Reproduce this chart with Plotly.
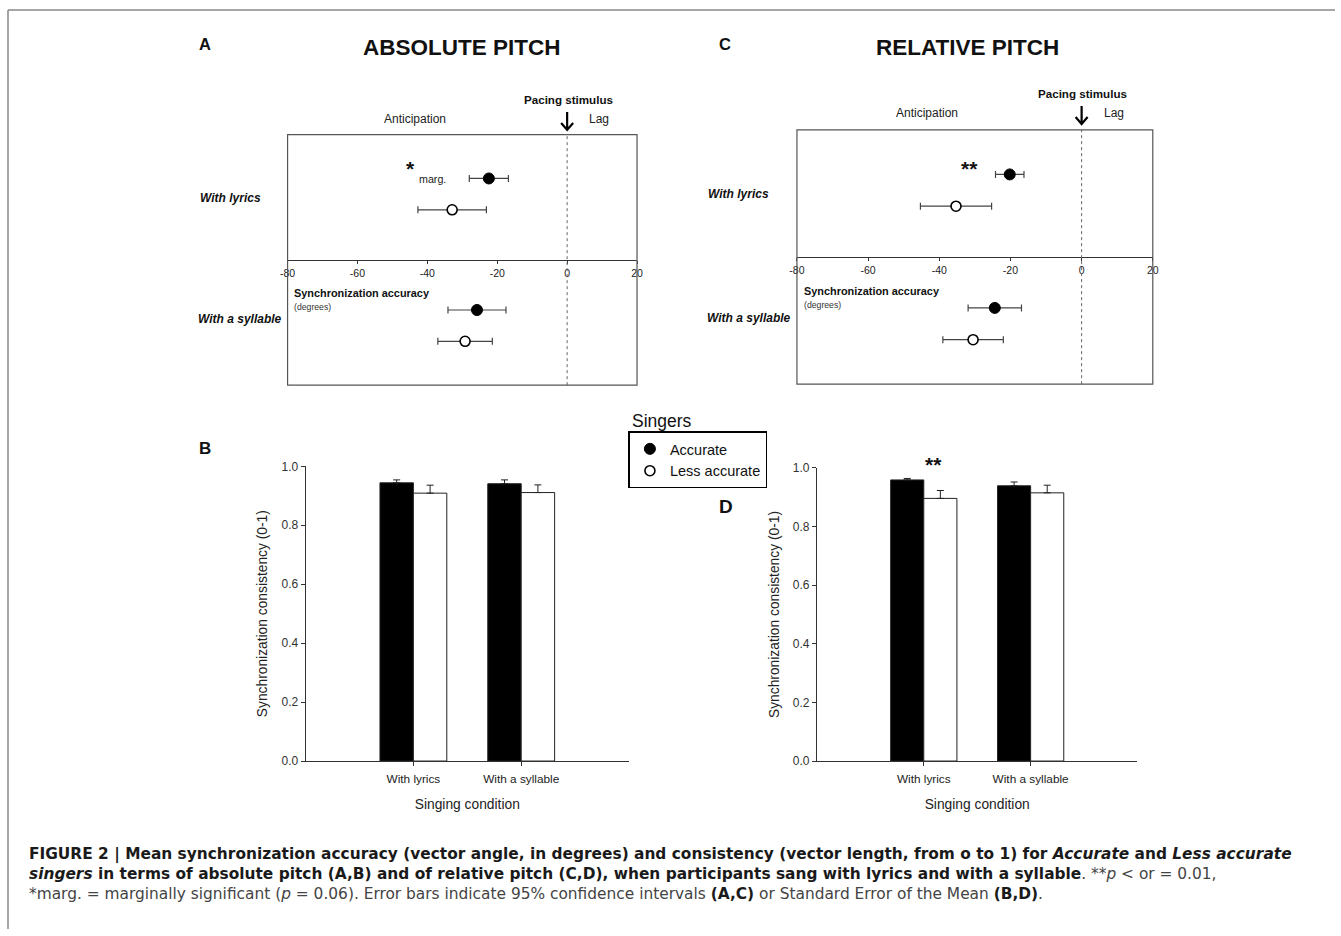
import plotly.graph_objects as go

W, H = 1341, 936
# the photographed page is slightly offset/scaled; compensate so marks land
# on the reference pixel positions
SX, OX = 0.99, 8.0
SY, OY = 0.988, 6.0


def px(x):
    return (x - OX) / SX / W


def py(y):
    return 1 - (y - OY) / SY / H


# ---------------- data ----------------
conditions = ["With lyrics", "With a syllable"]
groups = ["Accurate", "Less accurate"]

# Panels A / C: synchronization accuracy (degrees), mean and 95% CI half-width
abs_acc_mean = [-22.4, -25.8]
abs_acc_ci = [5.6, 8.3]
abs_less_mean = [-32.9, -29.2]
abs_less_ci = [9.8, 7.8]

rel_acc_mean = [-20.2, -24.4]
rel_acc_ci = [4.0, 7.5]
rel_less_mean = [-35.3, -30.5]
rel_less_ci = [10.0, 8.5]

# Panels B / D: synchronization consistency (0-1), mean and SEM
abs_acc_cons = [0.944, 0.941]
abs_acc_se = [0.010, 0.013]
abs_less_cons = [0.909, 0.911]
abs_less_se = [0.027, 0.026]

rel_acc_cons = [0.959, 0.939]
rel_acc_se = [0.005, 0.013]
rel_less_cons = [0.896, 0.915]
rel_less_se = [0.027, 0.026]

accuracy_ticks = [-80, -60, -40, -20, 0, 20]
accuracy_ticktext = ["-80", "-60", "-40", "-20", "0", "20"]
consistency_ticks = [0.0, 0.2, 0.4, 0.6, 0.8, 1.0]

# ---------------- layout helpers ----------------
FONT = "Liberation Sans, Arial, sans-serif"
row_center = [6.1, 1.9]          # vertical slot of each condition in A/C
group_offset = [0.5, -0.5]       # accurate above, less accurate below

fig = go.Figure()

marker_styles = [
    dict(color="black", size=11, line=dict(color="black", width=1)),
    dict(color="white", size=10, line=dict(color="black", width=1.6)),
]


def add_accuracy(means, cis, gi, xa, ya, show):
    ys = [row_center[i] + group_offset[gi] for i in range(len(conditions))]
    fig.add_trace(go.Scatter(
        x=means, y=ys, mode="markers", name=groups[gi],
        marker=marker_styles[gi],
        error_x=dict(type="data", array=cis, symmetric=True,
                     color="#444", thickness=1.2, width=3.5),
        xaxis=xa, yaxis=ya, showlegend=show, cliponaxis=False,
    ))


add_accuracy(abs_acc_mean, abs_acc_ci, 0, "x", "y", True)
add_accuracy(abs_less_mean, abs_less_ci, 1, "x", "y", True)
add_accuracy(rel_acc_mean, rel_acc_ci, 0, "x2", "y2", False)
add_accuracy(rel_less_mean, rel_less_ci, 1, "x2", "y2", False)

bar_colors = ["black", "white"]


def add_bars(vals, se, gi, xa, ya):
    fig.add_trace(go.Bar(
        x=conditions, y=vals, name=groups[gi],
        marker=dict(color=bar_colors[gi], line=dict(color="#222", width=1)),
        error_y=dict(type="data", array=se, arrayminus=[0] * len(se),
                     symmetric=False, color="#222", thickness=1, width=3.5),
        xaxis=xa, yaxis=ya, showlegend=False,
    ))


add_bars(abs_acc_cons, abs_acc_se, 0, "x3", "y3")
add_bars(abs_less_cons, abs_less_se, 1, "x3", "y3")
add_bars(rel_acc_cons, rel_acc_se, 0, "x4", "y4")
add_bars(rel_less_cons, rel_less_se, 1, "x4", "y4")

# ---------------- axes ----------------
acc_x_common = dict(range=[-80, 20], tickvals=accuracy_ticks,
                    ticktext=accuracy_ticktext, ticks="outside",
                    ticklen=3, tickcolor="#333", showline=True, linecolor="#333",
                    linewidth=1, showgrid=False, zeroline=False, anchor="free",
                    tickfont=dict(size=10.5, color="#222"))
acc_y_common = dict(range=[0, 8], visible=False)

cons_x_common = dict(type="category", range=[-1, 2], ticks="outside", ticklen=4,
                     tickcolor="#333", showline=True, linecolor="#333", linewidth=1,
                     showgrid=False, zeroline=False, ticklabelstandoff=3,
                     tickfont=dict(size=11.8, color="#222"),
                     title=dict(text="Singing condition", standoff=14,
                                font=dict(size=13.8, color="#222")))
cons_y_common = dict(range=[0, 1], tickvals=consistency_ticks, tickformat=".1f",
                     ticks="outside", ticklen=4, tickcolor="#333", showline=True,
                     linecolor="#333", linewidth=1, showgrid=False, zeroline=False,
                     tickfont=dict(size=12, color="#333"),
                     title=dict(text="Synchronization consistency (0-1)", standoff=10,
                                font=dict(size=13.8, color="#222")))

fig.update_layout(
    xaxis=dict(domain=[px(287.7), px(637.3)], position=py(260), **acc_x_common),
    yaxis=dict(domain=[py(385.3), py(134)], anchor="x", **acc_y_common),
    xaxis2=dict(domain=[px(797.3), px(1153.3)], position=py(256.7), **acc_x_common),
    yaxis2=dict(domain=[py(384.3), py(129.3)], anchor="x2", **acc_y_common),
    xaxis3=dict(domain=[px(305.7), px(629.3)], anchor="y3", **cons_x_common),
    yaxis3=dict(domain=[py(762.3), py(466.7)], anchor="x3", **cons_y_common),
    xaxis4=dict(domain=[px(817.3), px(1138)], anchor="y4", **cons_x_common),
    yaxis4=dict(domain=[py(762.3), py(468.3)], anchor="x4", **cons_y_common),
)

# ---------------- shapes ----------------
shapes = []
for xa, ya, tip in [("x", "y", 129.3), ("x2", "y2", 123.3)]:
    shapes.append(dict(type="rect", xref=xa + " domain", yref=ya + " domain",
                       x0=0, x1=1, y0=0, y1=1, line=dict(color="#555", width=1.2)))
    shapes.append(dict(type="line", xref=xa, yref=ya + " domain", x0=0, x1=0,
                       y0=0, y1=1, line=dict(color="#666", width=1, dash="dot")))
    shapes.append(dict(type="path", xref=xa, yref="paper", xsizemode="pixel",
                       ysizemode="pixel", xanchor=0, yanchor=py(tip),
                       path="M0,0 L0,18 M-6,7 L0,0 L6,7",
                       line=dict(color="black", width=2.2)))
# outer frame
shapes.append(dict(type="line", xref="paper", yref="paper", x0=px(8), x1=1,
                   y0=py(9), y1=py(9), line=dict(color="#888", width=1.5)))
shapes.append(dict(type="line", xref="paper", yref="paper", x0=px(8), x1=px(8),
                   y0=py(9), y1=0, line=dict(color="#888", width=1.5)))

# ---------------- annotations ----------------
ann = []


def t(text, x, y, size, xref="paper", yref="paper", xanchor="center",
      yanchor="middle", color="#111", family=FONT, align="center"):
    ann.append(dict(text=text, x=x, y=y, xref=xref, yref=yref, xanchor=xanchor,
                    yanchor=yanchor, showarrow=False, align=align,
                    font=dict(size=size, color=color, family=family)))


t("<b>A</b>", px(205), py(43), 16.5)
t("<b>ABSOLUTE PITCH</b>", px(462), py(47), 22.5)
t("<b>C</b>", px(725), py(43), 16.5)
t("<b>RELATIVE PITCH</b>", px(968), py(47), 22.5)
t("<b>B</b>", px(205), py(449), 17)
t("<b>D</b>", px(726), py(507), 19)

panel_text = [
    # x axis, y axis, pacing y, anticipation y, label right edges, label heights
    ("x", "y", 98.3, 118.3, (262.7, 284.0), (197.3, 319.3)),
    ("x2", "y2", 92.3, 112.7, (771.7, 793.3), (193.3, 317.7)),
]
for xa, ya, y_pace, y_ant, lab_x, lab_y in panel_text:
    t("<b>Pacing stimulus</b>", 0.3, py(y_pace), 11.6, xref=xa)
    t("Anticipation", -43.4, py(y_ant), 12, xref=xa, color="#222")
    t("Lag", 9.1, py(y_ant), 12, xref=xa, color="#222")
    t("<b>Synchronization accuracy</b>", -78.6, 2.93, 10.9, xref=xa, yref=ya,
      xanchor="left")
    t("(degrees)", -78.6, 2.49, 8.7, xref=xa, yref=ya, xanchor="left", color="#333")
    for ci, cond in enumerate(conditions):
        t("<b><i>%s</i></b>" % cond, px(lab_x[ci]), py(lab_y[ci]), 12,
          xanchor="right")

t("<b>*</b>", -44.7, 6.93, 21, xref="x", yref="y")
t("marg.", -43.1, 6.58, 10.7, xref="x", yref="y", xanchor="left", color="#222")
t("<b>**</b>", -31.5, 6.78, 21, xref="x2", yref="y2")
t("<b>**</b>", 0.087, py(465), 21, xref="x4", yref="paper")

t("Singers", px(630), py(421.7), 17.5, xanchor="left")

CAP = "DejaVu Sans, Liberation Sans, sans-serif"
caption = (
    "<b>FIGURE 2 | Mean synchronization accuracy (vector angle, in degrees) and "
    "consistency (vector length, from o to 1) for <i>Accurate</i> and "
    "<i>Less accurate</i></b><br>"
    "<b><i>singers</i> in terms of absolute pitch (A,B) and of relative pitch (C,D), "
    "when participants sang with lyrics and with a syllable</b>"
    "<span style='color:#444'>. **<i>p</i> &lt; or = 0.01,</span><br>"
    "<span style='color:#444'>*marg. = marginally significant (<i>p</i> = 0.06). "
    "Error bars indicate 95% confidence intervals </span><b>(A,C)</b>"
    "<span style='color:#444'> or Standard Error of the Mean </span><b>(B,D)</b>"
    "<span style='color:#444'>.</span>"
)
t(caption, px(27), py(876), 15.4, xanchor="left", color="#1a1a1a",
  family=CAP, align="left")

fig.update_layout(
    width=W, height=H, margin=dict(l=0, r=0, t=0, b=0),
    paper_bgcolor="white", plot_bgcolor="rgba(0,0,0,0)",
    font=dict(family=FONT, color="#111"),
    barmode="group", bargap=0.38, bargroupgap=0,
    shapes=shapes, annotations=ann,
    legend=dict(x=px(628.7), y=py(431.7), xanchor="left", yanchor="top",
                bgcolor="white", bordercolor="black", borderwidth=1.5,
                font=dict(size=14.5, color="#111", family=FONT),
                itemwidth=30, tracegroupgap=0),
)

fig.write_html("out.html", config={"displayModeBar": False},
               post_script="document.body.style.margin='0';")
